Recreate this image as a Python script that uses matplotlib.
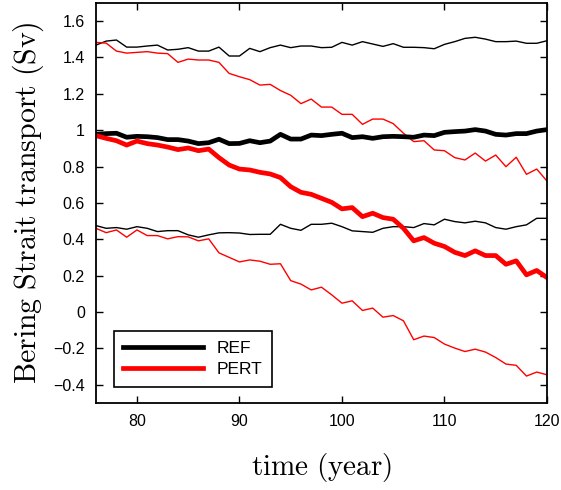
import matplotlib
matplotlib.use('Agg')
import matplotlib.pyplot as plt

# model years
years = list(range(76, 121))

# REF run: mean and spread (Sv)
ref_mean = [0.977, 0.981, 0.983, 0.961, 0.966, 0.964, 0.959, 0.948, 0.948, 0.940,
            0.926, 0.931, 0.950, 0.926, 0.927, 0.942, 0.931, 0.940, 0.977, 0.951,
            0.951, 0.973, 0.970, 0.977, 0.983, 0.959, 0.964, 0.955, 0.964, 0.966,
            0.964, 0.961, 0.973, 0.970, 0.988, 0.992, 0.995, 1.003, 0.995, 0.977,
            0.973, 0.981, 0.981, 0.995, 1.003]
ref_upper = [1.468, 1.490, 1.496, 1.457, 1.457, 1.463, 1.468, 1.441, 1.445, 1.454,
             1.435, 1.435, 1.457, 1.408, 1.408, 1.450, 1.432, 1.454, 1.468, 1.454,
             1.463, 1.463, 1.454, 1.456, 1.483, 1.468, 1.487, 1.474, 1.461, 1.476,
             1.456, 1.456, 1.454, 1.448, 1.472, 1.487, 1.505, 1.511, 1.501, 1.487,
             1.487, 1.490, 1.478, 1.478, 1.492]
ref_lower = [0.475, 0.460, 0.464, 0.455, 0.469, 0.460, 0.442, 0.447, 0.447, 0.424,
             0.411, 0.424, 0.435, 0.436, 0.434, 0.426, 0.427, 0.427, 0.482, 0.460,
             0.449, 0.482, 0.482, 0.488, 0.469, 0.446, 0.442, 0.438, 0.460, 0.469,
             0.469, 0.464, 0.486, 0.479, 0.510, 0.497, 0.490, 0.499, 0.490, 0.464,
             0.455, 0.469, 0.479, 0.515, 0.515]

# PERT run: mean and spread (Sv)
pert_mean = [0.970, 0.955, 0.942, 0.918, 0.940, 0.926, 0.918, 0.907, 0.893, 0.902,
             0.887, 0.896, 0.849, 0.808, 0.786, 0.781, 0.768, 0.759, 0.739, 0.689,
             0.658, 0.647, 0.625, 0.603, 0.567, 0.574, 0.524, 0.543, 0.519, 0.510,
             0.460, 0.391, 0.409, 0.378, 0.360, 0.328, 0.310, 0.336, 0.310, 0.310,
             0.262, 0.281, 0.204, 0.228, 0.189]
pert_upper = [1.483, 1.479, 1.435, 1.424, 1.428, 1.432, 1.424, 1.421, 1.373, 1.391,
              1.386, 1.386, 1.373, 1.312, 1.294, 1.278, 1.248, 1.252, 1.218, 1.192,
              1.146, 1.171, 1.127, 1.127, 1.087, 1.087, 1.032, 1.061, 1.061, 1.036,
              0.983, 0.937, 0.942, 0.891, 0.887, 0.849, 0.836, 0.874, 0.830, 0.863,
              0.799, 0.851, 0.757, 0.786, 0.720]
pert_lower = [0.460, 0.436, 0.451, 0.411, 0.451, 0.420, 0.420, 0.402, 0.414, 0.413,
              0.391, 0.402, 0.325, 0.300, 0.275, 0.286, 0.279, 0.262, 0.265, 0.172,
              0.153, 0.121, 0.136, 0.094, 0.048, 0.061, 0.008, 0.021, -0.029, -0.020,
              -0.049, -0.153, -0.133, -0.141, -0.177, -0.199, -0.218, -0.205, -0.221, -0.251,
              -0.287, -0.294, -0.353, -0.331, -0.346]

plt.rcParams['mathtext.fontset'] = 'cm'
plt.rcParams['font.family'] = ['Liberation Sans', 'DejaVu Sans']

fig = plt.figure(figsize=(5.61, 4.90), dpi=100)
ax = fig.add_axes([0.171, 0.178, 0.804, 0.816])

ax.plot(years, ref_upper, color='black', lw=1.0)
ax.plot(years, ref_lower, color='black', lw=1.0)
ax.plot(years, pert_upper, color='red', lw=1.0)
ax.plot(years, pert_lower, color='red', lw=1.0)
ax.plot(years, ref_mean, color='black', lw=3.4, label='REF')
ax.plot(years, pert_mean, color='red', lw=3.4, label='PERT')

ax.set_xlim(76, 120)
ax.set_ylim(-0.5, 1.7)
ax.set_xticks([80, 90, 100, 110, 120])
ax.set_yticks([-0.4, -0.2, 0, 0.2, 0.4, 0.6, 0.8, 1, 1.2, 1.4, 1.6])
ax.set_yticklabels(['\u22120.4', '\u22120.2', '0', '0.2', '0.4', '0.6', '0.8', '1',
                    '1.2', '1.4', '1.6'])
ax.tick_params(direction='in', top=True, right=True, length=5, width=1,
               labelsize=11.5, pad=8)
for s in ax.spines.values():
    s.set_linewidth(1.3)

ax.set_xlabel(r'$\mathrm{time\ (year)}$', fontsize=21, labelpad=16)
ax.set_ylabel(r'$\mathrm{Bering\ Strait\ transport\ (Sv)}$', fontsize=21.5, labelpad=5)

leg = ax.legend(loc='lower left', bbox_to_anchor=(0.02, 0.018), fontsize=12.5,
                fancybox=False, edgecolor='black', framealpha=1,
                handlelength=4.6, borderpad=0.55, labelspacing=0.35)
leg.get_frame().set_linewidth(1.2)

fig.savefig('out.png', dpi=100)
